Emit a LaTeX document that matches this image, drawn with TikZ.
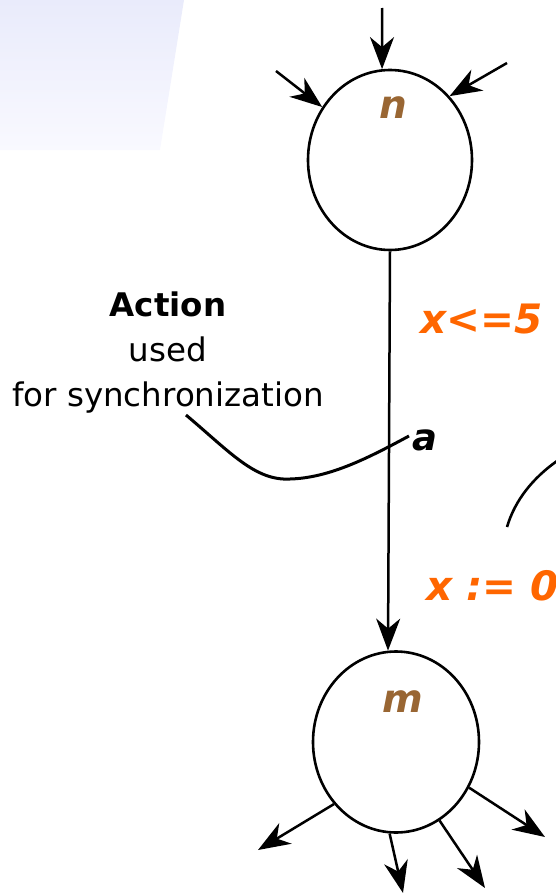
\documentclass[tikz,border=0pt]{standalone}
\usepackage{fontspec}
\setmainfont{DejaVu Sans}
\usetikzlibrary{arrows.meta,shapes.geometric}
\definecolor{stbrown}{RGB}{153,102,51}
\definecolor{guardorange}{RGB}{255,102,0}
\definecolor{bgtop}{RGB}{233,235,251}
\definecolor{bgbot}{RGB}{249,249,255}
\tikzset{
  statenode/.style={ellipse,draw=black,line width=2.6pt,minimum width=164pt,minimum height=180pt,inner sep=0pt},
  arr/.style={line width=2.5pt,-{Stealth[length=32pt,width=24pt,inset=10pt]}},
  statelabel/.style={text=stbrown,font=\fontsize{39}{44}\selectfont\bfseries\itshape,inner sep=0pt},
  guard/.style={text=guardorange,font=\fontsize{40.5}{44}\selectfont\bfseries\itshape,inner sep=0pt},
  note/.style={font=\fontsize{32.5}{45}\selectfont,align=center,inner sep=0pt}
}
\begin{document}
\begin{tikzpicture}[x=1pt,y=-1pt]
\useasboundingbox (0,0) rectangle (555,894);
% slide background fragment
\shade[top color=bgtop,bottom color=bgbot,draw=none] (0,0) -- (184,0) -- (160,150) -- (0,150) -- cycle;

% states
\node[statenode] (n) at (390,160) {};
\node[statenode,minimum width=166pt,minimum height=181pt] (m) at (396,742) {};
\node[statelabel,anchor=base] (nlab) at (393,118) {n};
\node[statelabel,anchor=base] (mlab) at (403,712) {m};

% incoming arrows to n
\coordinate (in1) at (382,8);
\coordinate (in2) at (276,71);
\coordinate (in3) at (507,63);
\draw[arr] (in1) -- (n.95);
\draw[arr] (in2) -- (n.142.5);
\draw[arr] (in3) -- (n.47.3);

% transition n -> m
\draw[arr] (n.270) -- (m.95);

% outgoing arrows from m
\coordinate (out1) at (258,850);
\coordinate (out2) at (403,893);
\coordinate (out3) at (485,888);
\coordinate (out4) at (545,837);
\draw[arr] (m.225.9) -- (out1);
\draw[arr] (m.266) -- (out2);
\draw[arr] (m.299) -- (out3);
\draw[arr] (m.328.5) -- (out4);

% labels on the transition
\node[guard,anchor=base west] (guardlab) at (420,333) {x<=5};
\node[font=\fontsize{37}{40}\selectfont\bfseries\itshape,inner sep=0pt,anchor=base west] (alab) at (412,450) {a};
\node[guard,anchor=base west] (resetlab) at (426,600) {x := 0};

% annotation
\node[note,anchor=north] (note) at (168,292) {\textbf{Action}\\used\\for synchronization};
\coordinate (leadA) at (186,415);
\coordinate (leadB) at (409,436);
\draw[line width=3pt] (leadA) .. controls (230,452) and (255,481) .. (290,479)
  .. controls (330,478) and (370,457) .. (leadB);

% fragment of another curve at right edge
\coordinate (arcA) at (507,527);
\coordinate (arcB) at (557,461);
\draw[line width=2.6pt] (arcA) .. controls (515,500) and (533,478) .. (arcB);
\end{tikzpicture}
\end{document}
